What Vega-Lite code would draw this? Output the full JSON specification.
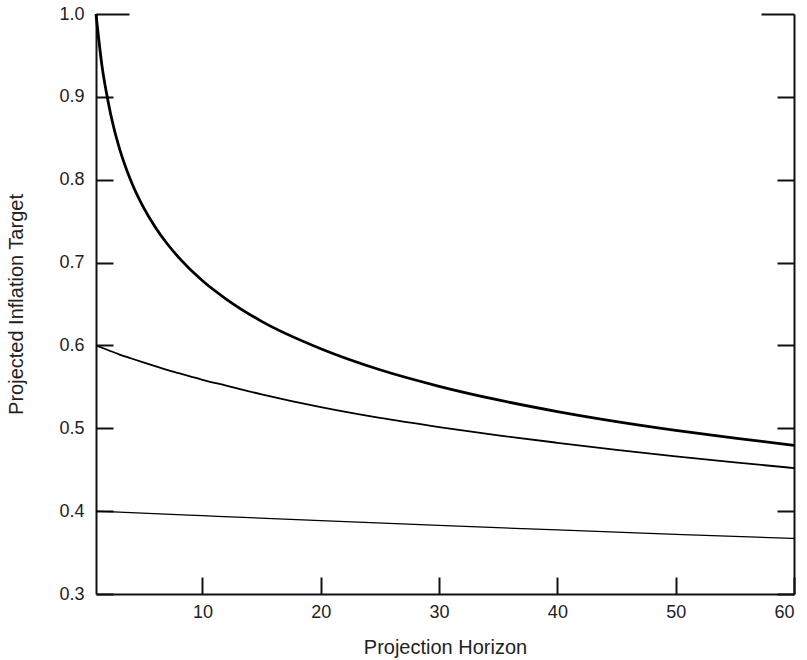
{
  "$schema": "https://vega.github.io/schema/vega-lite/v6.json",
  "width": 698,
  "height": 580,
  "autosize": "none",
  "padding": {"left": 96, "top": 14, "right": 13, "bottom": 66},
  "background": "white",
  "config": {
    "view": {"stroke": null},
    "font": "Liberation Sans",
    "axis": {
      "domainColor": "#111",
      "domainWidth": 2,
      "tickColor": "#111",
      "tickWidth": 2,
      "grid": false,
      "labelFont": "Liberation Sans",
      "labelFontSize": 18,
      "labelColor": "#222",
      "titleFont": "Liberation Sans",
      "titleFontSize": 20,
      "titleFontWeight": "normal",
      "titleColor": "#222"
    }
  },
  "data": {
    "values": [
      {"h": 1, "v": 1.0, "s": "a"},
      {"h": 1.5, "v": 0.938, "s": "a"},
      {"h": 2, "v": 0.896, "s": "a"},
      {"h": 2.5, "v": 0.863, "s": "a"},
      {"h": 3, "v": 0.837, "s": "a"},
      {"h": 4, "v": 0.797, "s": "a"},
      {"h": 5, "v": 0.767, "s": "a"},
      {"h": 6, "v": 0.743, "s": "a"},
      {"h": 7, "v": 0.723, "s": "a"},
      {"h": 8, "v": 0.706, "s": "a"},
      {"h": 10, "v": 0.678, "s": "a"},
      {"h": 12, "v": 0.656, "s": "a"},
      {"h": 15, "v": 0.629, "s": "a"},
      {"h": 20, "v": 0.596, "s": "a"},
      {"h": 25, "v": 0.5706, "s": "a"},
      {"h": 30, "v": 0.5507, "s": "a"},
      {"h": 35, "v": 0.5342, "s": "a"},
      {"h": 40, "v": 0.5202, "s": "a"},
      {"h": 45, "v": 0.5081, "s": "a"},
      {"h": 50, "v": 0.4975, "s": "a"},
      {"h": 55, "v": 0.488, "s": "a"},
      {"h": 60, "v": 0.4795, "s": "a"},
      {"h": 1, "v": 0.6, "s": "b"},
      {"h": 2, "v": 0.5945, "s": "b"},
      {"h": 3, "v": 0.589, "s": "b"},
      {"h": 4, "v": 0.5842, "s": "b"},
      {"h": 5, "v": 0.5795, "s": "b"},
      {"h": 6, "v": 0.575, "s": "b"},
      {"h": 7, "v": 0.5705, "s": "b"},
      {"h": 8, "v": 0.5665, "s": "b"},
      {"h": 10, "v": 0.5585, "s": "b"},
      {"h": 12, "v": 0.5515, "s": "b"},
      {"h": 15, "v": 0.541, "s": "b"},
      {"h": 20, "v": 0.5255, "s": "b"},
      {"h": 25, "v": 0.5125, "s": "b"},
      {"h": 30, "v": 0.5015, "s": "b"},
      {"h": 35, "v": 0.4915, "s": "b"},
      {"h": 40, "v": 0.4825, "s": "b"},
      {"h": 45, "v": 0.474, "s": "b"},
      {"h": 50, "v": 0.466, "s": "b"},
      {"h": 55, "v": 0.4588, "s": "b"},
      {"h": 60, "v": 0.452, "s": "b"},
      {"h": 1, "v": 0.4, "s": "c"},
      {"h": 10, "v": 0.3945, "s": "c"},
      {"h": 20, "v": 0.3885, "s": "c"},
      {"h": 30, "v": 0.3828, "s": "c"},
      {"h": 40, "v": 0.3773, "s": "c"},
      {"h": 50, "v": 0.372, "s": "c"},
      {"h": 60, "v": 0.367, "s": "c"}
    ]
  },
  "encoding": {
    "x": {
      "field": "h",
      "type": "quantitative",
      "scale": {"domain": [1, 60], "nice": false, "zero": false},
      "axis": {
        "title": "Projection Horizon",
        "values": [10, 20, 30, 40, 50, 60],
        "tickSize": -17,
        "labelPadding": 26,
        "titlePadding": 16
      }
    }
  },
  "layer": [
    {
      "transform": [{"filter": "datum.s == 'a'"}],
      "mark": {"type": "line", "color": "#000", "strokeWidth": 2.8, "interpolate": "monotone"},
      "encoding": {
        "y": {
          "field": "v",
          "type": "quantitative",
          "scale": {"domain": [0.3, 1.0], "nice": false, "zero": false},
          "axis": {
            "orient": "left",
            "title": "Projected Inflation Target",
            "values": [0.3, 0.4, 0.5, 0.6, 0.7, 0.8, 0.9, 1.0],
            "format": ".1f",
            "tickSize": {"condition": {"test": "datum.value > 0.95", "value": -33}, "value": -17},
            "labelPadding": {"condition": {"test": "datum.value > 0.95", "value": 45}, "value": 29},
            "titlePadding": 32
          }
        }
      }
    },
    {
      "transform": [{"filter": "datum.s == 'b'"}],
      "mark": {"type": "line", "color": "#000", "strokeWidth": 1.8, "interpolate": "monotone"},
      "encoding": {
        "y": {
          "field": "v",
          "type": "quantitative",
          "scale": {"domain": [0.3, 1.0], "nice": false, "zero": false},
          "axis": null
        }
      }
    },
    {
      "transform": [{"filter": "datum.s == 'c'"}],
      "mark": {"type": "line", "color": "#000", "strokeWidth": 1.3, "interpolate": "monotone"},
      "encoding": {
        "y": {
          "field": "v",
          "type": "quantitative",
          "scale": {"domain": [0.3, 1.0], "nice": false, "zero": false},
          "axis": {
            "orient": "right",
            "title": null,
            "labels": false,
            "values": [0.3, 0.4, 0.5, 0.6, 0.7, 0.8, 0.9, 1.0],
            "tickSize": {"condition": {"test": "datum.value > 0.95", "value": -33}, "value": -17}
          }
        }
      }
    }
  ],
  "resolve": {"scale": {"y": "independent"}}
}
